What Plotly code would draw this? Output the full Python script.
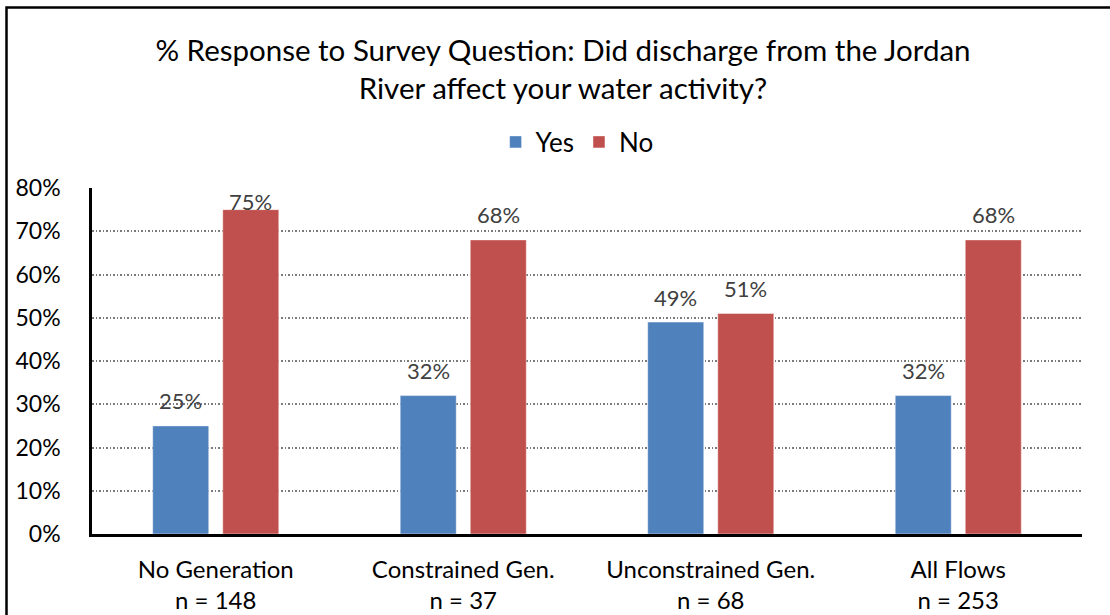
import plotly.graph_objects as go

# Survey results: share of respondents answering Yes / No, by flow condition
categories = ["No Generation", "Constrained Gen.", "Unconstrained Gen.", "All Flows"]
sample_sizes = [148, 37, 68, 253]
yes_share = [0.25, 0.32, 0.49, 0.32]
no_share = [0.75, 0.68, 0.51, 0.68]

x_labels = [f"{c}<br>n = {n}" for c, n in zip(categories, sample_sizes)]

FONT = "Lato"
BLUE = "#4F81BD"
RED = "#C0504D"

# plot-area geometry (pixels)
W, H = 1110, 615
L, R, T, B = 92, 28, 188, 81
Y_MAX = 0.8
plot_h = H - T - B

fig = go.Figure()
fig.add_trace(go.Bar(name="Yes", x=x_labels, y=yes_share, marker_color=BLUE,
                     marker_line=dict(color="rgba(255,255,255,0.45)", width=1)))
fig.add_trace(go.Bar(name="No", x=x_labels, y=no_share, marker_color=RED,
                     marker_line=dict(color="rgba(255,255,255,0.45)", width=1)))

# value labels above each bar, kept inside the plot area near the top
annotations = []
for series, dx in ((yes_share, -35), (no_share, 35)):
    for xl, v in zip(x_labels, series):
        top_px = plot_h * v / Y_MAX          # bar top, pixels above the baseline
        label_px = min(top_px + 25, plot_h - 13)
        annotations.append(dict(
            x=xl, y=v, xref="x", yref="y", text=f"{v:.0%}", showarrow=False,
            xshift=dx, yshift=label_px - top_px,
            font=dict(family=FONT, size=22, color="#404040"),
        ))

fig.update_layout(
    width=W, height=H,
    margin=dict(l=L, r=R, t=T, b=B, autoexpand=False),
    paper_bgcolor="white", plot_bgcolor="white",
    font=dict(family=FONT, color="black"),
    title=dict(
        text="% Response to Survey Question: Did discharge from the Jordan<br>River affect your water activity?",
        x=563 / W, xanchor="center", y=1 - 61 / H, yanchor="middle",
        font=dict(family=FONT, size=29.5, color="black"),
    ),
    legend=dict(
        orientation="h", x=0.49, xanchor="center", y=(plot_h - (142 - T)) / plot_h,
        yanchor="middle", font=dict(family=FONT, size=26, color="black"),
        itemwidth=30, traceorder="normal",
    ),
    barmode="group", bargap=0.434, bargroupgap=0.2,
    annotations=annotations,
    shapes=[dict(
        type="rect", xref="paper", yref="paper",
        x0=(6.5 - L) / (W - L - R), x1=(W + 10 - L) / (W - L - R),
        y0=-(B + 10) / plot_h, y1=(H - B - 7.5) / plot_h,
        line=dict(color="black", width=2.5), fillcolor="rgba(0,0,0,0)", layer="below",
    )],
)

fig.update_xaxes(
    showline=True, linecolor="black", linewidth=2.5, automargin=False,
    showgrid=False, ticks="", tickfont=dict(family=FONT, size=24, color="black"),
    ticklabelstandoff=12,
)
fig.update_yaxes(
    range=[0, Y_MAX], dtick=0.1, tickformat=".0%", automargin=False,
    showline=True, linecolor="black", linewidth=2.5,
    showgrid=True, gridcolor="#7a7a7a", gridwidth=1.5, griddash="1.5px,2px",
    zeroline=False, ticks="", ticklabelstandoff=24,
    tickfont=dict(family=FONT, size=23, color="black"),
)

fig.write_html("out.html")
